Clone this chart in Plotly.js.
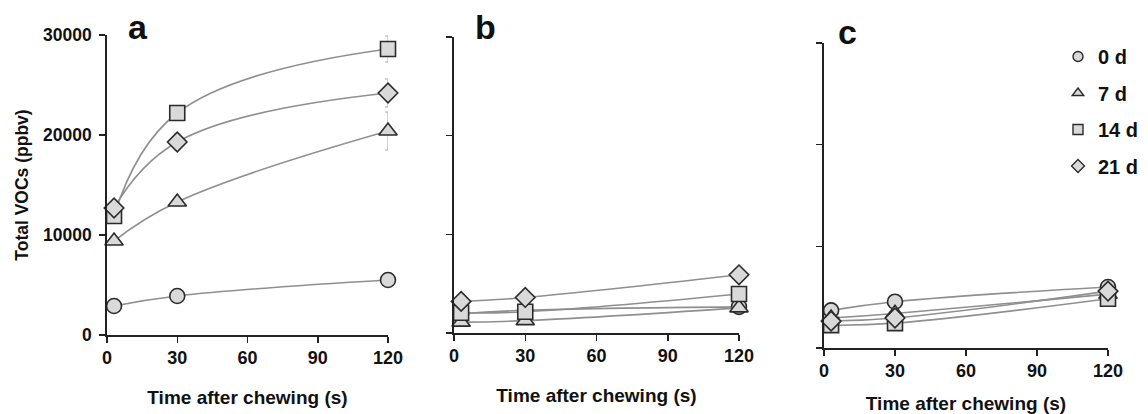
<!DOCTYPE html>
<html>
<head>
<meta charset="utf-8">
<script src="https://cdn.plot.ly/plotly-3.0.1.min.js"></script>
<style>html,body{margin:0;padding:0;background:#fff;}#chart{width:1148px;height:414px;}</style>
</head>
<body>
<div id="chart"></div>
<script>
// ---- data ----
const times = [3, 30, 120];
const seriesNames = ["0 d", "7 d", "14 d", "21 d"];
const symbols = ["circle", "triangle-up", "square", "diamond"];
const panelLabels = ["a", "b", "c"];
const xTicks = [0, 30, 60, 90, 120];
const yTicks = [0, 10000, 20000, 30000];

// panel a
const a_0d  = [2900, 3900, 5500];
const a_7d  = [9400, 13300, 20400];
const a_14d = [11900, 22200, 28600];
const a_21d = [12700, 19300, 24200];
const a_0d_err  = [150, 200, 250];
const a_7d_err  = [300, 400, 1900];
const a_14d_err = [400, 700, 1300];
const a_21d_err = [300, 800, 1400];
// panel b
const b_0d  = [1950, 2300, 2650];
const b_7d  = [1100, 1250, 2550];
const b_14d = [2050, 2150, 3950];
const b_21d = [3200, 3600, 5900];
// panel c
const c_0d  = [3700, 4550, 6000];
const c_7d  = [2950, 3400, 5300];
const c_14d = [2250, 2450, 4850];
const c_21d = [2650, 2950, 5600];

const panels = [
  {vals: [a_0d, a_7d, a_14d, a_21d], errs: [a_0d_err, a_7d_err, a_14d_err, a_21d_err]},
  {vals: [b_0d, b_7d, b_14d, b_21d], errs: null},
  {vals: [c_0d, c_7d, c_14d, c_21d], errs: null}
];

const FONT = "Liberation Sans, Arial, sans-serif";
const W = 1148, H = 414;
// pixel boxes [left, right, top, bottom]
const boxes = [[107, 388, 35, 335], [454, 739, 37, 333], [824, 1108, 43, 348]];

const traces = [];
panels.forEach((p, pi) => {
  const xa = pi === 0 ? "x" : "x" + (pi + 1);
  const ya = pi === 0 ? "y" : "y" + (pi + 1);
  p.vals.forEach((v, si) => {
    const t = {
      x: times, y: v, xaxis: xa, yaxis: ya,
      mode: "lines+markers", showlegend: false, cliponaxis: false,
      line: {color: "#8f8f8f", width: 1.6, shape: "spline", smoothing: 1.2},
      marker: {symbol: symbols[si], size: si === 1 ? 16 : 15, color: "#d9d9d9",
               line: {color: "#2b2b2b", width: 1.6}}
    };
    if (p.errs) {
      t.error_y = {type: "data", array: p.errs[si], visible: true, color: "#a8a8a8", thickness: 1, width: 3};
    }
    traces.push(t);
  });
});
// legend entries
seriesNames.forEach((n, si) => {
  traces.push({
    x: [null], y: [null], xaxis: "x3", yaxis: "y3", name: n, mode: "markers",
    legendgroup: "g" + si, showlegend: true,
    marker: {symbol: symbols[si], size: 10, color: "#d9d9d9", line: {color: "#2b2b2b", width: 1.4}}
  });
});

const layout = {
  width: W, height: H,
  margin: {l: 0, r: 0, t: 0, b: 0},
  paper_bgcolor: "#fff", plot_bgcolor: "#fff",
  font: {family: FONT, color: "#111"},
  showlegend: true,
  legend: {x: 1058 / W, y: (H - 37) / H, xanchor: "left", yanchor: "top",
           font: {family: FONT, size: 20, weight: "bold", color: "#111"},
           tracegroupgap: 7.5, bgcolor: "rgba(0,0,0,0)"},
  annotations: []
};

boxes.forEach((b, i) => {
  const sfx = i === 0 ? "" : String(i + 1);
  layout["xaxis" + sfx] = {
    domain: [b[0] / W, b[1] / W], anchor: "y" + sfx, range: [0, 120],
    tickvals: xTicks, ticktext: xTicks.map(String), ticks: "outside", ticklen: 6, tickwidth: 1.5,
    tickcolor: "#222", showline: true, linecolor: "#222", linewidth: 1.8, showgrid: false, zeroline: false,
    tickfont: {family: FONT, size: 18, weight: "bold", color: "#111"},
    title: {text: "Time after chewing (s)", standoff: 23,
            font: {family: FONT, size: 19, weight: "bold", color: "#111"}}
  };
  layout["yaxis" + sfx] = {
    domain: [(H - b[3]) / H, (H - b[2]) / H], anchor: "x" + sfx, range: [0, 30000],
    tickvals: yTicks, ticktext: i === 0 ? yTicks.map(String) : yTicks.map(() => ""),
    ticks: "outside", ticklen: 6, tickwidth: 1.5, tickcolor: "#222", ticklabelstandoff: 4,
    showline: true, linecolor: "#222", linewidth: 1.8, showgrid: false, zeroline: false,
    tickfont: {family: FONT, size: 17.5, weight: "bold", color: "#111"}
  };
  layout.annotations.push({
    text: panelLabels[i], xref: "paper", yref: "paper", showarrow: false,
    x: [138, 485, 847][i] / W, y: (H - [27, 27, 32][i]) / H, xanchor: "center", yanchor: "middle",
    font: {family: FONT, size: 34, weight: "bold", color: "#111"}
  });
});
layout.xaxis3.title.standoff = 21;
layout.yaxis.title = {text: "Total VOCs (ppbv)", standoff: 10,
  font: {family: FONT, size: 17.5, weight: "bold", color: "#111"}};

Plotly.newPlot("chart", traces, layout, {displayModeBar: false, staticPlot: true});
</script>
</body>
</html>
